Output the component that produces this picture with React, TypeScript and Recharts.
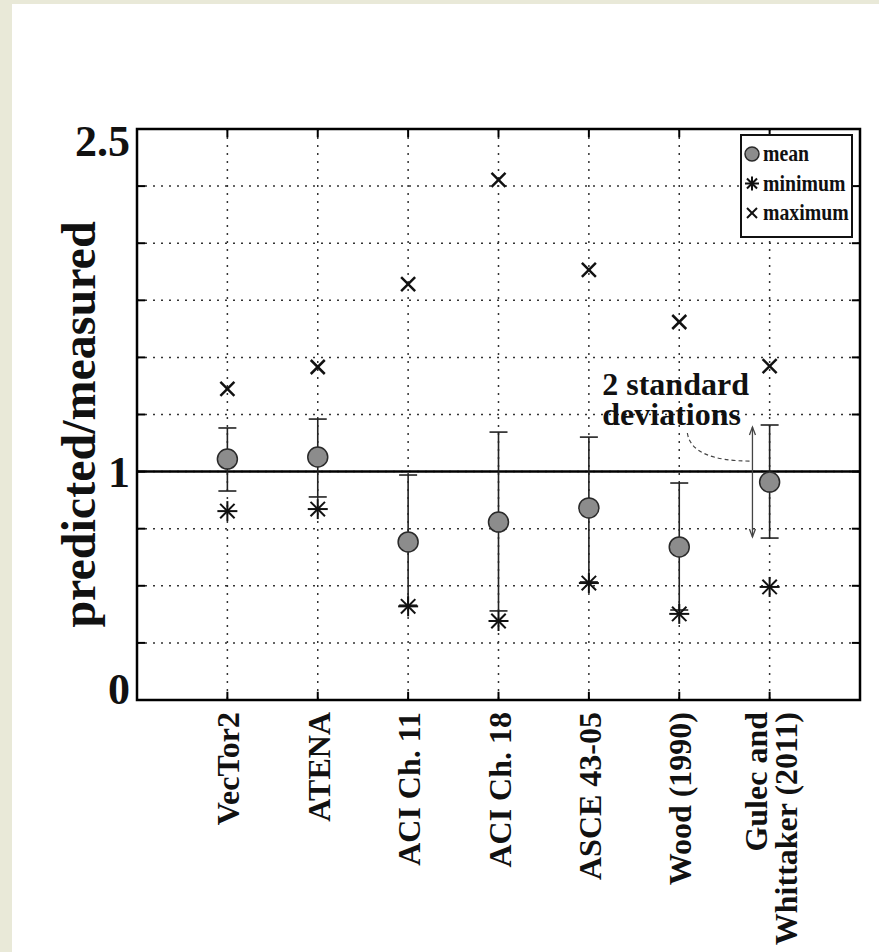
import React from 'react';
import {
  ComposedChart,
  Scatter,
  XAxis,
  YAxis,
  CartesianGrid,
  ReferenceLine,
  ReferenceArea,
  ReferenceDot,
  ErrorBar,
  Legend,
} from 'recharts';

const categories = ['VecTor2', 'ATENA', 'ACI Ch. 11', 'ACI Ch. 18', 'ASCE 43-05', 'Wood (1990)', 'Gulec and Whittaker (2011)'];
const categoryLines = [['VecTor2'], ['ATENA'], ['ACI Ch. 11'], ['ACI Ch. 18'], ['ASCE 43-05'], ['Wood (1990)'], ['Gulec and', 'Whittaker (2011)']];
const meanValues = [1.055, 1.064, 0.692, 0.779, 0.841, 0.67, 0.954];
const minValues = [0.827, 0.836, 0.41, 0.346, 0.512, 0.377, 0.495];
const maxValues = [1.362, 1.458, 1.821, 2.277, 1.883, 1.655, 1.462];
const upperValues = [1.191, 1.23, 0.985, 1.173, 1.151, 0.95, 1.204];
const lowerValues = [0.915, 0.889, 0.415, 0.39, 0.517, 0.394, 0.709];

const xTicks = [0, 1, 2, 3, 4, 5, 6];
const yTicks = [0, 0.25, 0.5, 0.75, 1, 1.25, 1.5, 1.75, 2, 2.25, 2.5];
const yTickLabels: Record<string, string> = { '0': '0', '1': '1', '2.5': '2.5' };
const yTickShift: Record<string, number> = { '0': 4, '1': 15, '2.5': 27 };
const legendItems = ['mean', 'minimum', 'maximum'];
const annotationLines = ['2 standard', 'deviations'];

const data = categories.map((c, i) => ({
  x: i,
  name: c,
  mean: meanValues[i],
  min: minValues[i],
  max: maxValues[i],
  err: [meanValues[i] - lowerValues[i], upperValues[i] - meanValues[i]],
}));

const FONT = '"Liberation Serif", "Times New Roman", serif';

const drawMean = (cx: number, cy: number, r: number) => (
  <circle cx={cx} cy={cy} r={r} fill="#8c8c8c" stroke="#2a2a2a" strokeWidth={1.5} />
);
const drawStar = (cx: number, cy: number, r: number) => {
  const d = r * 0.72;
  return (
    <g stroke="#111" strokeWidth={2}>
      <line x1={cx - r} y1={cy} x2={cx + r} y2={cy} />
      <line x1={cx} y1={cy - r} x2={cx} y2={cy + r} />
      <line x1={cx - d} y1={cy - d} x2={cx + d} y2={cy + d} />
      <line x1={cx - d} y1={cy + d} x2={cx + d} y2={cy - d} />
    </g>
  );
};
const drawCross = (cx: number, cy: number, d: number, w: number) => (
  <g stroke="#111" strokeWidth={w}>
    <line x1={cx - d} y1={cy - d} x2={cx + d} y2={cy + d} />
    <line x1={cx - d} y1={cy + d} x2={cx + d} y2={cy - d} />
  </g>
);

const MeanShape = (p: any) => drawMean(p.cx, p.cy, 10);
const StarShape = (p: any) => drawStar(p.cx, p.cy, 10);
const CrossShape = (p: any) => drawCross(p.cx, p.cy, 7, 2.5);

const XTick = (props: any) => {
  const { x, y, payload } = props;
  const lines = categoryLines[payload.value] || [];
  const n = lines.length;
  return (
    <g>
      {lines.map((ln, k) => {
        const cx = x + (k - (n - 1) / 2) * 30 + 1;
        return (
          <text
            key={k}
            x={cx}
            y={y}
            transform={`rotate(-90 ${cx} ${y})`}
            textAnchor="end"
            dominantBaseline="central"
            fontFamily={FONT}
            fontWeight="bold"
            fontSize={32}
            fill="#111"
          >
            {ln}
          </text>
        );
      })}
    </g>
  );
};

const YTick = (props: any) => {
  const { x, y, payload } = props;
  const key = String(payload.value);
  const label = yTickLabels[key];
  if (!label) return null;
  return (
    <text x={x} y={y + yTickShift[key]} textAnchor="end" fontFamily={FONT} fontWeight="bold" fontSize={44} fill="#111">
      {label}
    </text>
  );
};

const YTitle = (props: any) => {
  const vb = props.viewBox || { x: 0, y: 0, width: 0, height: 0 };
  const cx = vb.x + 78;
  const cy = vb.y + vb.height / 2 + 10;
  return (
    <text
      x={cx}
      y={cy}
      transform={`rotate(-90 ${cx} ${cy})`}
      textAnchor="middle"
      dominantBaseline="central"
      fontFamily={FONT}
      fontWeight="bold"
      fontSize={48}
      fill="#111"
    >
      predicted/measured
    </text>
  );
};

const LegendBox = () => (
  <svg width={113} height={104} style={{ display: 'block' }}>
    <rect x={1} y={1} width={111} height={102} fill="#fff" stroke="#111" strokeWidth={2} />
    {legendItems.map((name, i) => {
      const base = 27 + i * 29.5;
      const cy = base - 7;
      const cx = 12;
      return (
        <g key={name}>
          {i === 0 && drawMean(cx, cy, 7)}
          {i === 1 && drawStar(cx, cy, 7)}
          {i === 2 && drawCross(cx, cy, 5, 2)}
          <g transform={`translate(23 ${base}) scale(0.86 1)`}>
            <text x={0} y={0} fontFamily={FONT} fontWeight="bold" fontSize={23} fill="#111">
              {name}
            </text>
          </g>
        </g>
      );
    })}
  </svg>
);

const ArrowShape = (p: any) => {
  const { x1, y1, x2, y2 } = p;
  const top = Math.min(y1, y2);
  const bot = Math.max(y1, y2);
  return (
    <g stroke="#444" strokeWidth={1.3} fill="none">
      <line x1={x1} y1={top} x2={x2} y2={bot} />
      <path d={`M ${x1 - 3} ${top + 8} L ${x1} ${top} L ${x1 + 3} ${top + 8}`} />
      <path d={`M ${x1 - 3} ${bot - 8} L ${x1} ${bot} L ${x1 + 3} ${bot - 8}`} />
    </g>
  );
};

const CurveShape = (p: any) => {
  const { x1, y1, x2, y2 } = p;
  return (
    <path
      d={`M ${x1} ${y1} Q ${x1 + 4} ${y2} ${x2} ${y2}`}
      fill="none"
      stroke="#444"
      strokeWidth={1.2}
      strokeDasharray="4 3"
    />
  );
};

const AnnotationText = (p: any) => (
  <g>
    {annotationLines.map((ln, i) => (
      <text key={ln} x={p.cx} y={p.cy + i * 30} fontFamily={FONT} fontWeight="bold" fontSize={32} fill="#111">
        {ln}
      </text>
    ))}
  </g>
);

const tickDX = 0.09;
const tickDY = 0.036;

export default function App() {
  return (
    <div style={{ position: 'absolute', left: 0, top: 0, width: 879, height: 952, background: '#e9e9d8', overflow: 'hidden' }}>
      <div style={{ position: 'absolute', left: 12, top: 4, right: 0, bottom: 0, background: '#ffffff' }} />
      <div style={{ position: 'absolute', left: 0, top: 0 }}>
        <ComposedChart width={879} height={952} data={data} margin={{ top: 129, right: 19, bottom: 0, left: 0 }}>
          <CartesianGrid stroke="#333" strokeWidth={1.5} strokeDasharray="2 6" />
          <XAxis
            dataKey="x"
            type="number"
            domain={[-1, 7]}
            ticks={xTicks}
            interval={0}
            height={252}
            tickSize={0}
            tickMargin={12}
            tickLine={false}
            axisLine={false}
            tick={<XTick />}
            allowDataOverflow
          />
          <YAxis
            type="number"
            domain={[0, 2.5]}
            ticks={yTicks}
            interval={0}
            width={137}
            tickSize={0}
            tickMargin={7}
            tickLine={false}
            axisLine={false}
            tick={<YTick />}
            allowDataOverflow
            label={{ content: <YTitle /> }}
          />
          <ReferenceLine y={1} stroke="#000" strokeWidth={2.5} />
          <ReferenceArea x1={-1} x2={7} y1={0} y2={2.5} fill="none" stroke="#000" strokeWidth={2.5} />
          {yTicks.map((v) => (
            <ReferenceLine key={'tl' + v} segment={[{ x: -1, y: v }, { x: -1 + tickDX, y: v }]} stroke="#000" strokeWidth={2} />
          ))}
          {yTicks.map((v) => (
            <ReferenceLine key={'tr' + v} segment={[{ x: 7 - tickDX, y: v }, { x: 7, y: v }]} stroke="#000" strokeWidth={2} />
          ))}
          {xTicks.map((v) => (
            <ReferenceLine key={'tb' + v} segment={[{ x: v, y: 0 }, { x: v, y: tickDY }]} stroke="#000" strokeWidth={2} />
          ))}
          {xTicks.map((v) => (
            <ReferenceLine key={'tt' + v} segment={[{ x: v, y: 2.5 - tickDY }, { x: v, y: 2.5 }]} stroke="#000" strokeWidth={2} />
          ))}
          <Scatter dataKey="mean" shape={MeanShape} isAnimationActive={false} legendType="none">
            <ErrorBar dataKey="err" direction="y" width={9} stroke="#222" strokeWidth={1.6} isAnimationActive={false} />
          </Scatter>
          <Scatter dataKey="min" shape={StarShape} isAnimationActive={false} legendType="none" />
          <Scatter dataKey="max" shape={CrossShape} isAnimationActive={false} legendType="none" />
          <ReferenceLine
            segment={[{ x: 5.81, y: 1.195 }, { x: 5.81, y: 0.714 }]}
            shape={ArrowShape}
          />
          <ReferenceLine
            segment={[{ x: 5.09, y: 1.169 }, { x: 5.8, y: 1.046 }]}
            shape={CurveShape}
          />
          <ReferenceDot x={4.148} y={1.335} r={0} shape={AnnotationText} />
          <Legend
            layout="horizontal"
            verticalAlign="middle"
            align="center"
            wrapperStyle={{ position: 'absolute', left: 740, top: 134, width: 113, height: 104 }}
            content={<LegendBox />}
          />
        </ComposedChart>
      </div>
    </div>
  );
}
